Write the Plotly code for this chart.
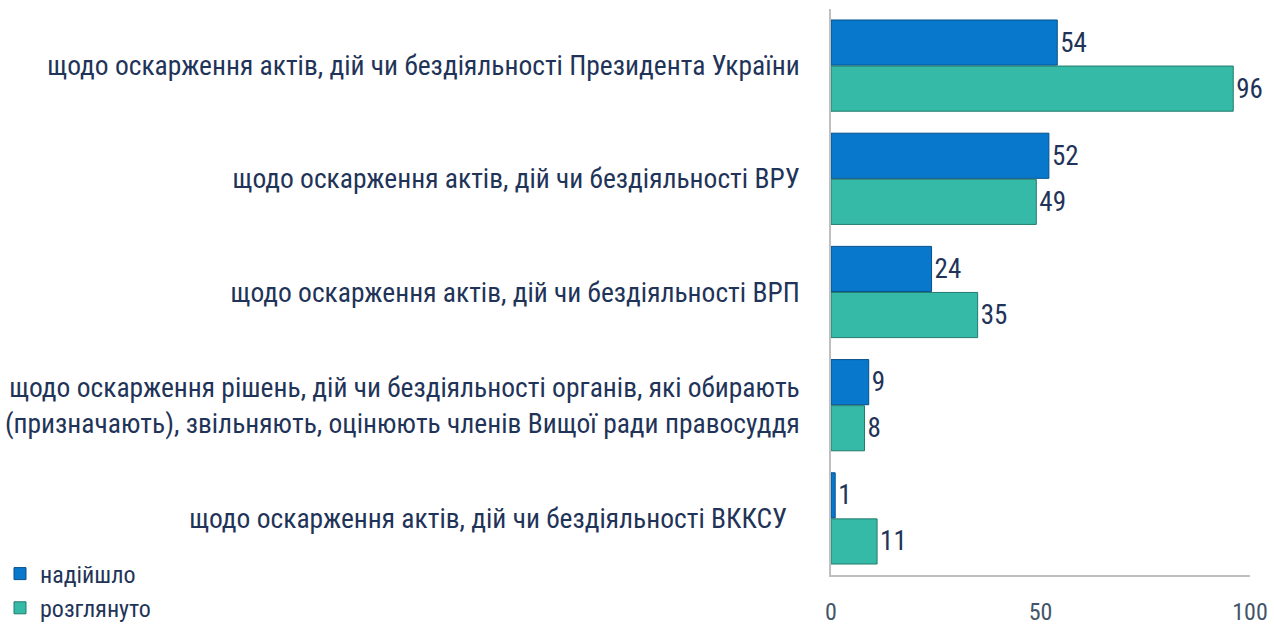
import plotly.graph_objects as go

categories = [
    "щодо оскарження актів, дій чи бездіяльності Президента України",
    "щодо оскарження актів, дій чи бездіяльності ВРУ",
    "щодо оскарження актів, дій чи бездіяльності ВРП",
    "щодо оскарження рішень, дій чи бездіяльності органів, які обирають<br>(призначають), звільняють, оцінюють членів Вищої ради правосуддя",
    "щодо оскарження актів, дій чи бездіяльності ВККСУ  ",
]
received = [54, 52, 24, 9, 1]
reviewed = [96, 49, 35, 8, 11]
series_names = ["надійшло", "розглянуто"]
x_ticks = [0, 50, 100]

FONT = "Roboto Condensed, Liberation Sans Narrow, DejaVu Sans Condensed, Roboto, sans-serif"
NAVY = "#1f3458"

fig = go.Figure()
fig.add_trace(go.Bar(
    y=categories, x=received, name=series_names[0], orientation="h",
    marker=dict(color="#0878cc", line=dict(color="#06508a", width=1)),
    text=received, textposition="outside",
    textfont=dict(size=27, color=NAVY, family=FONT), cliponaxis=False,
))
fig.add_trace(go.Bar(
    y=categories, x=reviewed, name=series_names[1], orientation="h",
    marker=dict(color="#36baa8", line=dict(color="#237a6e", width=1)),
    text=reviewed, textposition="outside",
    textfont=dict(size=27, color=NAVY, family=FONT), cliponaxis=False,
))

fig.update_layout(
    width=1274, height=626,
    margin=dict(l=831, r=24, t=9, b=51, autoexpand=False),
    paper_bgcolor="white", plot_bgcolor="white",
    barmode="group", bargap=0.186, bargroupgap=0.02,
    font=dict(family=FONT, color=NAVY, size=24),
    showlegend=True,
    legend=dict(
        xref="container", yref="container",
        x=0.0, y=0.119, xanchor="left", yanchor="top",
        font=dict(size=24, color=NAVY, family=FONT),
        bgcolor="rgba(0,0,0,0)", tracegroupgap=0, itemwidth=30,
    ),
    xaxis=dict(
        range=[0, 100], tickvals=x_ticks, showgrid=False, zeroline=False,
        showline=True, linecolor="#bfbfbf", linewidth=1.5,
        ticks="", ticklabelstandoff=14, automargin=False,
        tickfont=dict(size=24, color="#44546a", family=FONT),
    ),
    yaxis=dict(
        autorange="reversed", showgrid=False, zeroline=False,
        showline=True, linecolor="#bfbfbf", linewidth=1.5,
        ticks="", ticklabelstandoff=24, automargin=False,
        tickfont=dict(size=27.5, color=NAVY, family=FONT),
    ),
)

fig.write_html("out.html", config={"displayModeBar": False},
               post_script="document.body.style.margin='0';")
